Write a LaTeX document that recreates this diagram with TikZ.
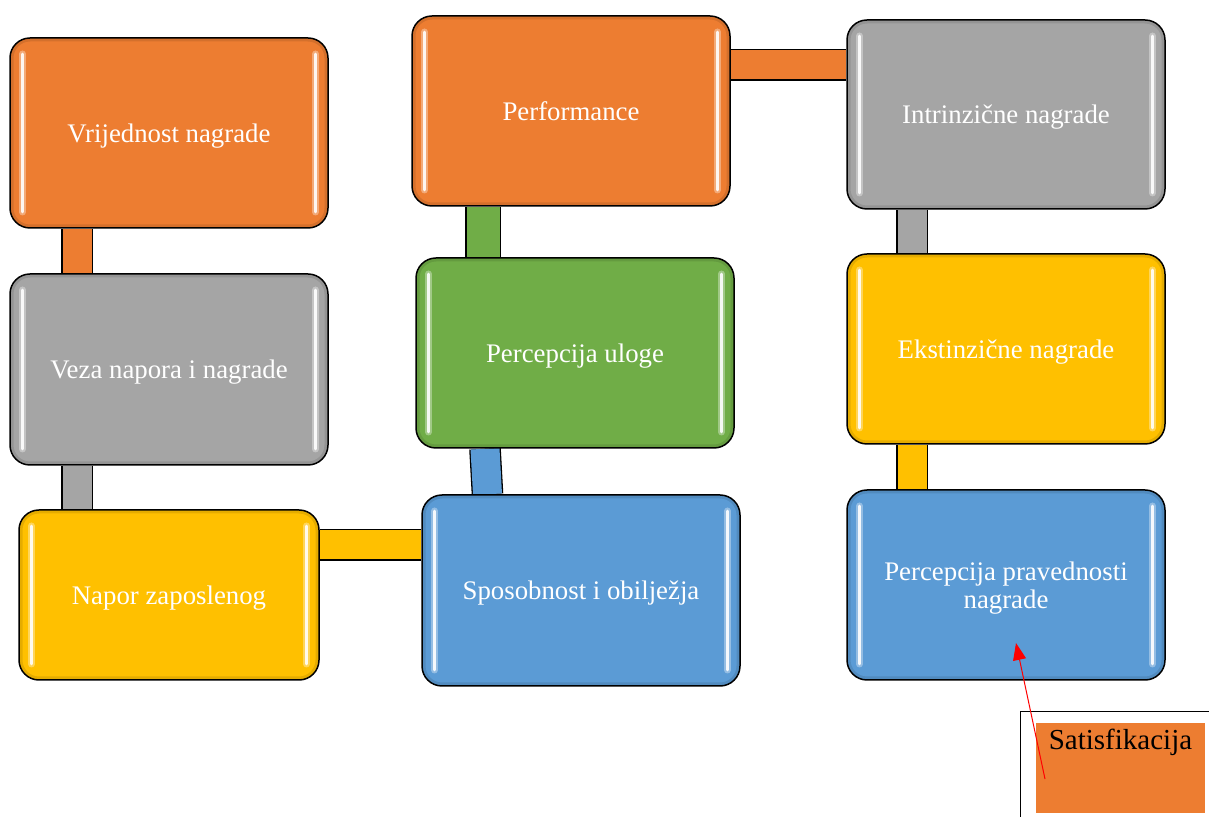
\documentclass[tikz,border=0pt]{standalone}
\usepackage{fontspec}
\setmainfont{Liberation Serif}
\usetikzlibrary{backgrounds,arrows.meta}
\definecolor{cOrange}{HTML}{ED7D31}
\definecolor{cGray}{HTML}{A5A5A5}
\definecolor{cYellow}{HTML}{FFC000}
\definecolor{cBlue}{HTML}{5B9BD5}
\definecolor{cGreen}{HTML}{70AD47}
\tikzset{
  box/.style={rectangle, rounded corners=20pt, draw=black, line width=1.5pt,
    fill=#1, text=white, align=center, minimum width=318pt, minimum height=190pt,
    text depth=0pt,
    font=\fontsize{26.8}{28.5}\selectfont,
    path picture={
      \draw[black, opacity=0.10, line width=7pt, rounded corners=20pt]
        (path picture bounding box.south west) rectangle (path picture bounding box.north east);
      \foreach \s/\a in {west/1,east/-1}{
        \draw[white, opacity=0.35, line width=7pt, line cap=round]
          ([shift={(\a*12.5pt,-16pt)}]path picture bounding box.north \s) --
          ([shift={(\a*12.5pt,16pt)}]path picture bounding box.south \s);
        \draw[white, opacity=0.9, line width=2.8pt, line cap=round]
          ([shift={(\a*12.5pt,-16pt)}]path picture bounding box.north \s) --
          ([shift={(\a*12.5pt,16pt)}]path picture bounding box.south \s);
      }
    }},
  conn/.style={line width=1.3pt, draw=black, double=#1, double distance=29pt},
}
\begin{document}
\begin{tikzpicture}[x=1pt,y=1pt]
\useasboundingbox (0,0) rectangle (1209,816);
% boxes
\node[box=cOrange] (b1) at (169,683) {Vrijednost nagrade};
\node[box=cGray, minimum height=191pt] (b2) at (169,446.5) {Veza napora i nagrade};
\node[box=cYellow, minimum width=300pt, minimum height=170pt] (b3) at (169,221) {Napor zaposlenog};
\node[box=cBlue, minimum height=191pt] (b4) at (581,225.5) {Sposobnost i obilježja};
\node[box=cGreen] (b5) at (575,463) {Percepcija uloge};
\node[box=cOrange] (b6) at (571,705) {Performance};
\node[box=cGray, minimum height=189pt] (b7) at (1006,701.5) {Intrinzične nagrade};
\node[box=cYellow] (b8) at (1006,467) {Ekstinzične nagrade};
\node[box=cBlue] (b9) at (1006,231) {Percepcija pravednosti\\nagrade};
% connectors
\begin{scope}[on background layer]
\draw[conn=cOrange] ([xshift=-92pt]b1.south) -- ([xshift=-92pt]b2.north);
\draw[conn=cGray] ([xshift=-92pt]b2.south) -- ([xshift=-92pt]b3.north);
\draw[conn=cYellow] ([yshift=50pt]b3.east) -- ([yshift=45.5pt]b4.west);
\draw[conn=cBlue] ([xshift=-90pt]b5.south) -- ([xshift=-93.5pt]b4.north);
\draw[conn=cGreen, double distance=33pt] ([xshift=-88pt]b6.south) -- ([xshift=-92pt]b5.north);
\draw[conn=cOrange] ([yshift=46pt]b6.east) -- ([yshift=49.5pt]b7.west);
\draw[conn=cGray] ([xshift=-94pt]b7.south) -- ([xshift=-94pt]b8.north);
\draw[conn=cYellow] ([xshift=-94pt]b8.south) -- ([xshift=-94pt]b9.north);
\end{scope}
% Satisfikacija
\draw[black, line width=1pt] (1020,-2) -- (1020,104) -- (1211,104);
\node[fill=cOrange, minimum width=169pt, minimum height=90pt, inner sep=0pt] (satbg) at (1120.5,48) {};
\node[anchor=base, text=black, font=\fontsize{29}{32}\selectfont, inner sep=0pt] (sat) at (1120.5,66) {Satisfikacija};
\coordinate (arrstart) at (1045,37);
\draw[red, line width=1pt, -{Triangle[length=17pt,width=13pt]}] (arrstart) -- ([xshift=10pt,yshift=-58pt]b9.center);
\end{tikzpicture}
\end{document}
